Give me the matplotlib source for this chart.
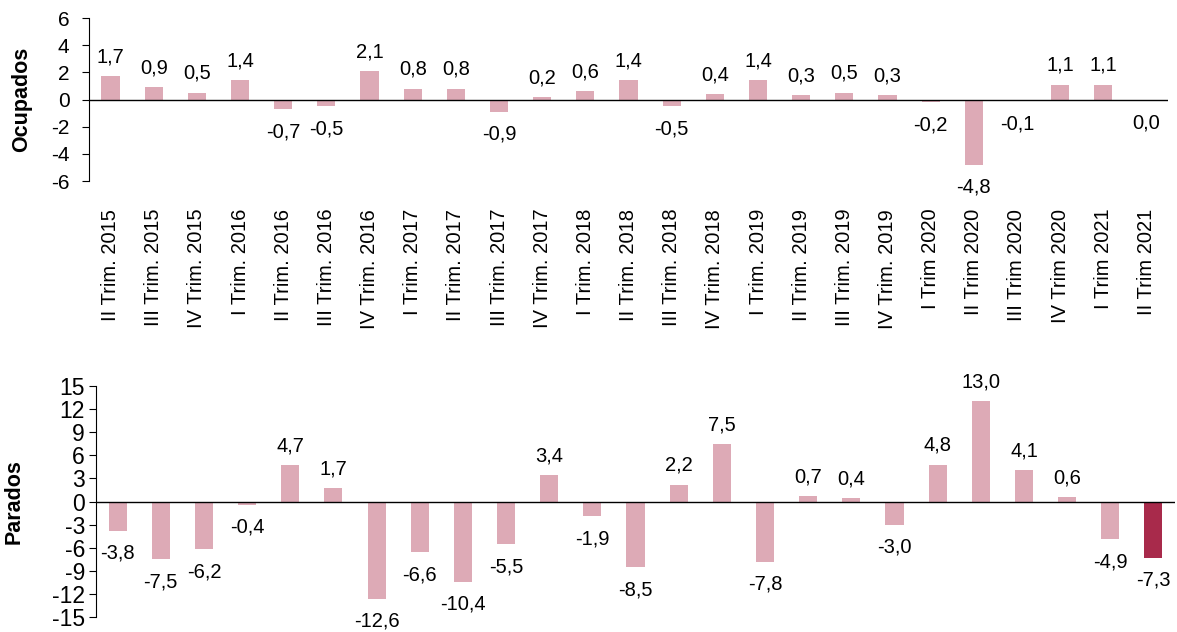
import matplotlib
matplotlib.use("Agg")
import matplotlib.pyplot as plt
import numpy as np

plt.rcParams['font.family'] = ['Liberation Sans', 'DejaVu Sans']

quarters = ["II Trim. 2015", "III Trim. 2015", "IV Trim. 2015", "I Trim. 2016",
            "II Trim. 2016", "III Trim. 2016", "IV Trim. 2016", "I Trim. 2017",
            "II Trim. 2017", "III Trim. 2017", "IV Trim. 2017", "I Trim. 2018",
            "II Trim. 2018", "III Trim. 2018", "IV Trim. 2018", "I Trim. 2019",
            "II Trim. 2019", "III Trim. 2019", "IV Trim. 2019", "I Trim 2020",
            "II Trim 2020", "III Trim 2020", "IV Trim 2020", "I Trim 2021",
            "II Trim 2021"]
ocupados = [1.7, 0.9, 0.5, 1.4, -0.7, -0.5, 2.1, 0.8, 0.8, -0.9, 0.2, 0.6, 1.4,
            -0.5, 0.4, 1.4, 0.3, 0.5, 0.3, -0.2, -4.8, -0.1, 1.1, 1.1, -0.049]
parados = [-3.8, -7.5, -6.2, -0.4, 4.7, 1.7, -12.6, -6.6, -10.4, -5.5, 3.4, -1.9,
           -8.5, 2.2, 7.5, -7.8, 0.7, 0.4, -3.0, 4.8, 13.0, 4.1, 0.6, -4.9, -7.3]
ticks_top = [-6, -4, -2, 0, 2, 4, 6]
ticks_bottom = [-15, -12, -9, -6, -3, 0, 3, 6, 9, 12, 15]

PINK = "#DDAAB6"
DARK = "#A82A4B"

fig = plt.figure(figsize=(11.77, 6.32), dpi=100)
ax1 = fig.add_axes([0.0756, 0.7136, 0.9168, 0.2579])
ax2 = fig.add_axes([0.0816, 0.0237, 0.9167, 0.3655])

x = np.arange(len(quarters))


def draw(ax, vals, ylim, yticks, ylabel, tick_fs, tick_pad, show_x):
    colors = [PINK] * (len(vals) - 1) + [DARK]
    ax.bar(x, vals, width=0.42, color=colors, linewidth=0, zorder=2)
    ax.axhline(0, color="black", linewidth=1.0, zorder=3)
    ax.set_xlim(-0.5, len(vals) - 0.5)
    ax.set_ylim(*ylim)
    ax.set_yticks(yticks)
    ax.set_yticklabels([str(t) for t in yticks], fontsize=tick_fs)
    for s in ["top", "right", "bottom"]:
        ax.spines[s].set_visible(False)
    ax.spines["left"].set_linewidth(0.8)
    ax.tick_params(axis="y", direction="out", length=5, width=0.8, pad=tick_pad)
    ax.set_ylabel(ylabel, fontsize=15.5, fontweight="bold")
    if show_x:
        ax.set_xticks(x)
        ax.set_xticklabels(quarters, rotation=90, fontsize=14.5)
        ax.tick_params(axis="x", length=0, pad=20)
    else:
        ax.set_xticks([])
    for xi, v in zip(x, vals):
        lab = f"{v:.1f}".replace(".", ",")
        if lab == "-0,0":
            lab = "0,0"
        if v >= 0:
            ax.annotate(lab, (xi, v), xytext=(0, 7), textcoords="offset points",
                        ha="center", va="bottom", fontsize=14.5)
        else:
            ax.annotate(lab, (xi, v), xytext=(0, -9.5), textcoords="offset points",
                        ha="center", va="top", fontsize=14.5)


draw(ax1, ocupados, (-6, 6), ticks_top, "Ocupados", 15, 9, True)
draw(ax2, parados, (-15, 15), ticks_bottom, "Parados", 16.5, 3, False)
ax1.yaxis.set_label_coords(-0.053, 0.5)
ax2.yaxis.set_label_coords(-0.066, 0.5)

fig.savefig("out.png", dpi=100)
